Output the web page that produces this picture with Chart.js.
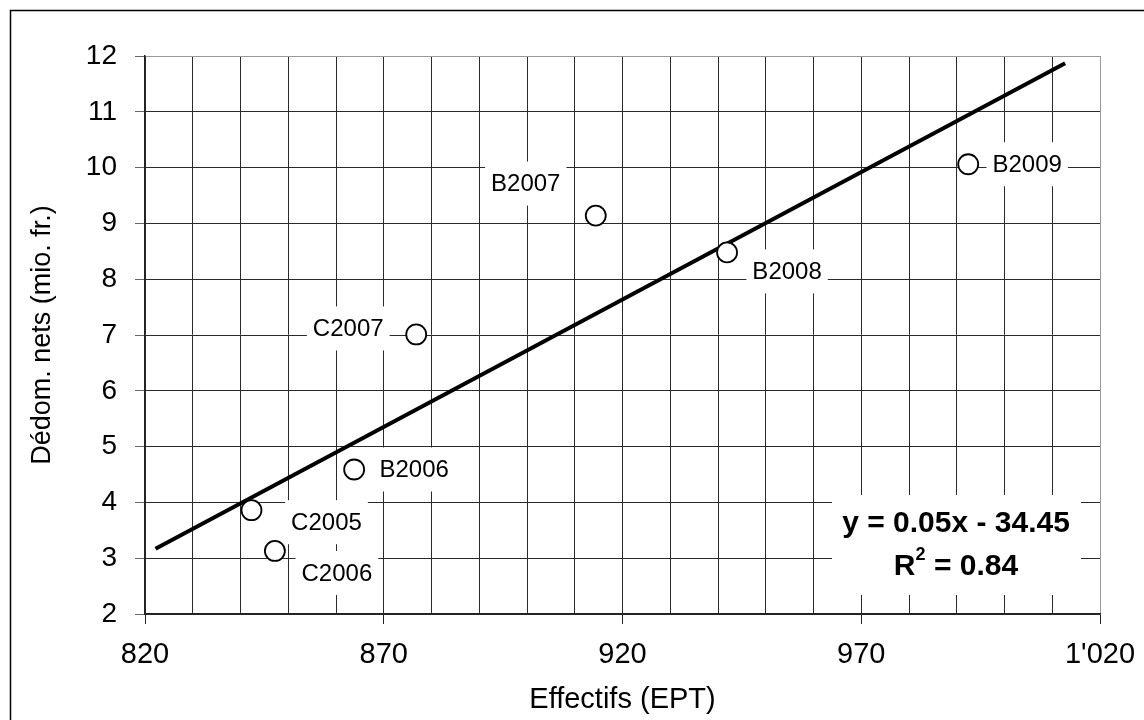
<!DOCTYPE html>
<html>
<head>
<meta charset="utf-8">
<script src="https://cdn.jsdelivr.net/npm/chart.js@4/dist/chart.umd.min.js"></script>
<style>html,body{margin:0;padding:0;background:#fff}</style>
</head>
<body>
<canvas id="effChart" width="1144" height="720"></canvas>
<script>
// data
const pointNames = ['C2005', 'C2006', 'B2006', 'C2007', 'B2007', 'B2008', 'B2009'];
const effectifs = [842.3, 847.2, 863.8, 876.8, 914.4, 941.9, 992.4];
const dedommagements = [3.86, 3.13, 4.59, 7.01, 9.14, 8.48, 10.06];
const trendX = [822.2, 1012.7];
const trendY = [3.17, 11.87];
const xTickLabels = [820, 870, 920, 970, 1020];
const equationText = 'y = 0.05x - 34.45';
const r2Value = '0.84';

// label offsets from the point (px)
const labelOffsets = {
    C2005: [75, 12], C2006: [62, 22], B2006: [60, 0], C2007: [-68, -6],
    B2007: [-70, -32], B2008: [60, 19], B2009: [59, 0]
};

const FONT = "'Liberation Sans', Arial, sans-serif";

function fmtThousands(v) {
    return v >= 1000 ? Math.floor(v / 1000) + "'" + String(v % 1000).padStart(3, '0') : String(v);
}

const labelPlugin = {
    id: 'pointLabels',
    beforeDatasetsDraw(chart) {
        const { ctx, scales: { x, y } } = chart;
        ctx.save();
        ctx.font = '24px ' + FONT;
        ctx.textAlign = 'center';
        ctx.textBaseline = 'middle';
        pointNames.forEach((name, i) => {
            const off = labelOffsets[name];
            const cx = x.getPixelForValue(effectifs[i]) + off[0];
            const cy = y.getPixelForValue(dedommagements[i]) + off[1];
            const w = ctx.measureText(name).width + 12;
            ctx.fillStyle = '#fff';
            ctx.fillRect(cx - w / 2, cy - 22, w, 44);
            ctx.fillStyle = '#000';
            ctx.fillText(name, cx, cy + 1);
        });

        // regression equation box
        ctx.fillStyle = '#fff';
        ctx.fillRect(832, 495, 249, 100);
        ctx.fillStyle = '#000';
        ctx.font = 'bold 30px ' + FONT;
        ctx.fillText(equationText, 956, 524);
        const rest = ' = ' + r2Value;
        const wR = ctx.measureText('R').width;
        ctx.font = 'bold 18px ' + FONT;
        const w2 = ctx.measureText('2').width;
        ctx.font = 'bold 30px ' + FONT;
        const wRest = ctx.measureText(rest).width;
        let sx = 956 - (wR + w2 + wRest) / 2;
        ctx.textAlign = 'left';
        ctx.fillText('R', sx, 567);
        ctx.font = 'bold 18px ' + FONT;
        ctx.fillText('2', sx + wR, 555);
        ctx.font = 'bold 30px ' + FONT;
        ctx.fillText(rest, sx + wR + w2, 567);
        ctx.restore();
    },
    afterDraw(chart) {
        const ctx = chart.ctx;
        ctx.save();
        ctx.strokeStyle = '#000';
        ctx.lineWidth = 1.5;
        ctx.strokeRect(10.5, 10.5, 1300, 900);
        ctx.restore();
    }
};

const ctx = document.getElementById('effChart').getContext('2d');
const effChart = new Chart(ctx, {
    type: 'scatter',
    data: {
        datasets: [
            {
                label: 'Points',
                data: effectifs.map((v, i) => ({ x: v, y: dedommagements[i] })),
                pointRadius: 10,
                pointBackgroundColor: '#fff',
                pointBorderColor: '#000',
                pointBorderWidth: 1.8,
                order: 1
            },
            {
                label: 'Tendance',
                data: trendX.map((v, i) => ({ x: v, y: trendY[i] })),
                showLine: true,
                borderColor: '#000',
                borderWidth: 4,
                pointRadius: 0,
                order: 2
            }
        ]
    },
    options: {
        responsive: false,
        animation: false,
        devicePixelRatio: 1,
        layout: { padding: { left: 0, top: 56, right: 44, bottom: 0 } },
        plugins: { legend: { display: false }, tooltip: { enabled: false } },
        scales: {
            x: {
                type: 'linear',
                min: 820, max: 1020,
                afterFit: s => { s.height = 106; s.paddingLeft = 0; s.paddingRight = 0; },
                ticks: {
                    stepSize: 10,
                    autoSkip: false,
                    maxRotation: 0,
                    padding: 14,
                    color: '#000',
                    font: { family: FONT, size: 29 },
                    callback: v => xTickLabels.includes(v) ? fmtThousands(v) : ''
                },
                grid: {
                    color: c => c.tick && c.tick.value === 1020 ? '#9a9a9a' : '#2a2a2a',
                    tickColor: c => c.tick && xTickLabels.includes(c.tick.value) ? '#222' : 'rgba(0,0,0,0)',
                    tickLength: 10,
                    lineWidth: 1
                },
                border: { color: '#222', width: 1.5 },
                title: {
                    display: true,
                    text: 'Effectifs (EPT)',
                    color: '#000',
                    font: { family: FONT, size: 29 },
                    padding: { top: 0, bottom: 3 }
                }
            },
            y: {
                min: 2, max: 12,
                afterFit: s => { s.width = 145; s.paddingTop = 0; s.paddingBottom = 0; },
                ticks: {
                    stepSize: 1,
                    padding: 18,
                    color: '#000',
                    font: { family: FONT, size: 28 }
                },
                grid: {
                    color: c => c.tick && c.tick.value === 12 ? '#9a9a9a' : '#2a2a2a',
                    tickColor: '#666',
                    tickLength: 10,
                    lineWidth: 1
                },
                border: { color: '#222', width: 1.5 },
                title: {
                    display: true,
                    text: 'Dédom. nets (mio. fr.)',
                    color: '#000',
                    font: { family: FONT, size: 27 },
                    padding: { top: 26, bottom: 0 }
                }
            }
        }
    },
    plugins: [labelPlugin]
});
</script>
</body>
</html>
